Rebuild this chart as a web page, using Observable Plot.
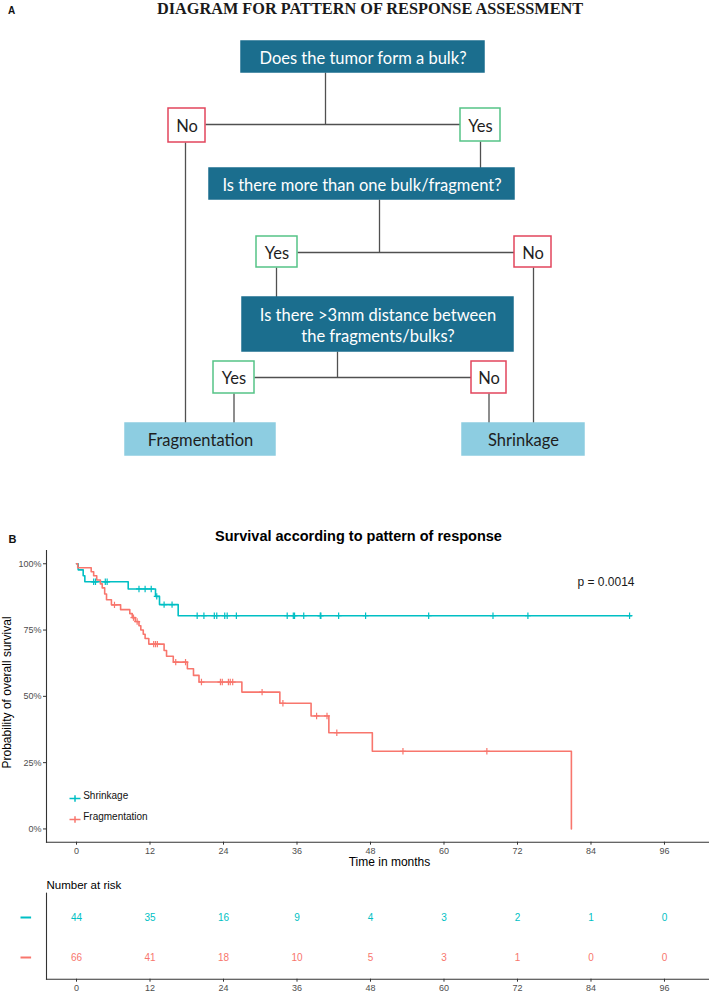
<!DOCTYPE html>
<html><head><meta charset="utf-8">
<script src="https://cdn.jsdelivr.net/npm/d3@7"></script>
<script src="https://cdn.jsdelivr.net/npm/@observablehq/plot@0.6"></script>
<style>
body{margin:0;background:#fff;}
#fig{position:relative;width:709px;height:992px;overflow:hidden;background:#fff;}
#fig > div{position:absolute;left:0;}
svg{display:block;overflow:visible;}
</style></head>
<body><div id="fig"><div id="flow" style="top:0px"></div><div id="km" style="top:505px"></div><div id="risk" style="top:870px"></div></div>
<script>
// ================= Panel A : content =================
const panelALabel = "A";
const diagramTitle = "DIAGRAM FOR PATTERN OF RESPONSE ASSESSMENT";
const questions = ["Does the tumor form a bulk?", "Is there more than one bulk/fragment?", "Is there >3mm distance between\nthe fragments/bulks?"];
const answerLabels = ["No", "Yes", "Yes", "No", "Yes", "No"];
const answerKinds = ["no", "yes", "yes", "no", "yes", "no"];
const outcomes = ["Fragmentation", "Shrinkage"];

// Panel A layout (diagram pixels: [x1, x2, y1, y2])
const questionBoxes = [[241, 484, 41, 72], [209, 514, 168, 199], [242, 513, 297, 351]];
const answerBoxes = [[168, 205, 108, 142], [460, 500, 108, 141], [256, 297, 236, 267], [514, 551, 236, 267], [213, 254, 361, 393], [471, 506, 361, 393]];
const outcomeBoxes = [[125, 275, 423, 455], [462, 584, 423, 455]];
const connectorSegments = [
  [325, 72, 325, 124], [205, 124, 460, 124], [480, 141, 480, 168], [185, 142, 185, 423],
  [379, 199, 379, 252], [297, 252, 514, 252], [276, 267, 276, 297], [533, 267, 533, 423],
  [337, 351, 337, 377], [254, 377, 471, 377], [233.5, 393, 233.5, 423], [488.5, 393, 488.5, 423]
];

// ================= Panel B : data =================
const panelBLabel = "B";
const kmTitle = "Survival according to pattern of response";
const pValueLabel = "p = 0.0014";
const groups = ["Shrinkage", "Fragmentation"];
const groupColors = ["#00BFC4", "#F8766D"];

const shrinkTime = [0, 0.27, 1.09, 1.36, 8.44, 12.9, 13.55, 16.6, 90.6];
const shrinkSurv = [1, 0.977, 0.955, 0.932, 0.905, 0.877, 0.846, 0.804, 0.804];
const shrinkCensor = [2.8, 3.1, 4.7, 5.0, 10.2, 11.2, 12.2, 13.1, 14.3, 15.6, 19.7, 20.8, 22.5, 22.9, 24.2, 24.6, 26.1, 34.4, 35.4, 35.6, 37.1, 39.8, 39.9, 42.8, 47.2, 57.5, 68.0, 73.7, 90.3];

const fragTime = [0, 0.2, 2.4, 2.8, 3.3, 3.9, 4.2, 4.6, 4.9, 5.7, 7.2, 8.7, 9.1, 9.6, 10.2, 10.5, 10.9, 11.2, 11.8, 14.3, 14.7, 15.8, 18.1, 19.1, 20.0, 27.0, 33.2, 38.3, 41.2, 48.3, 80.8];
const fragSurv = [1, 0.985, 0.970, 0.955, 0.939, 0.924, 0.909, 0.886, 0.864, 0.845, 0.827, 0.812, 0.797, 0.782, 0.766, 0.750, 0.734, 0.718, 0.697, 0.673, 0.651, 0.629, 0.604, 0.579, 0.554, 0.516, 0.474, 0.426, 0.363, 0.293, 0];
const fragCensor = [6.2, 9.3, 9.9, 12.6, 12.9, 13.2, 16.2, 17.8, 20.4, 23.5, 23.8, 24.8, 25.1, 25.5, 30.3, 33.7, 39.2, 40.9, 42.5, 53.3, 67.0];

const timeTicks = [0, 12, 24, 36, 48, 60, 72, 84, 96];
const survTicks = [0, 0.25, 0.5, 0.75, 1];
const xAxisTitle = "Time in months";
const yAxisTitle = "Probability of overall survival";
const riskTitle = "Number at risk";
const shrinkRisk = [44, 35, 16, 9, 4, 3, 2, 1, 0];
const fragRisk = [66, 41, 18, 10, 5, 3, 1, 0, 0];

// ================= helpers =================
const sans = "'Liberation Sans', Arial, Helvetica, sans-serif";
const toBox = (b) => ({x1: b[0], x2: b[1], y1: b[2], y2: b[3]});
const nodes = [
  ...questions.map((t, i) => ({text: t, kind: "question", ...toBox(questionBoxes[i])})),
  ...answerLabels.map((t, i) => ({text: t, kind: answerKinds[i], ...toBox(answerBoxes[i])})),
  ...outcomes.map((t, i) => ({text: t, kind: "outcome", ...toBox(outcomeBoxes[i])}))
];
const kindFill = {question: "#1B6E8E", outcome: "#8DCDE1", yes: "#FFFFFF", no: "#FFFFFF"};
const kindStroke = {question: "#1B6E8E", outcome: "#8DCDE1", yes: "#55C387", no: "#E2455C"};
const kindText = {question: "#FFFFFF", outcome: "#1E1E1E", yes: "#1E1E1E", no: "#1E1E1E"};
const links = connectorSegments.map(([x1, y1, x2, y2]) => ({x1, y1, x2, y2}));

// ================= Panel A plot =================
const flow = Plot.plot({
  width: 709, height: 470, margin: 0,
  x: {domain: [0, 709], range: [0, 709], axis: null},
  y: {domain: [0, 470], range: [0, 470], axis: null},
  color: {type: "identity"},
  style: {background: "white"},
  marks: [
    Plot.link(links, {x1: "x1", y1: "y1", x2: "x2", y2: "y2", stroke: "#505050", strokeWidth: 1.3}),
    Plot.rect(nodes, {x1: "x1", x2: "x2", y1: "y1", y2: "y2", fill: d => kindFill[d.kind], stroke: d => kindStroke[d.kind], strokeWidth: 1.5}),
    Plot.text(nodes, {x: d => (d.x1 + d.x2) / 2, y: d => (d.y1 + d.y2) / 2, text: "text", fill: d => kindText[d.kind],
      fontFamily: "Lato, 'Open Sans', sans-serif", fontSize: 16.5, lineHeight: 1.27, textAnchor: "middle"}),
    Plot.text([diagramTitle], {x: 369.5, y: 8.6, text: d => d, fontFamily: "'Liberation Serif', 'Times New Roman', serif",
      fontWeight: "bold", fontSize: 16.3, fill: "#1a1a1a", textAnchor: "middle"}),
    Plot.text([panelALabel], {x: 11, y: 10.5, text: d => d, fontFamily: sans, fontWeight: "bold", fontSize: 10, fill: "#111", textAnchor: "middle"})
  ]
});
document.getElementById("flow").append(flow);

// ================= Panel B : survival curves =================
const survAt = (times, survs, t) => survs[d3.bisectRight(times, t) - 1];
const shrinkPts = shrinkTime.map((t, i) => ({t, s: shrinkSurv[i], g: groups[0]}));
const fragPts = fragTime.map((t, i) => ({t, s: fragSurv[i], g: groups[1]}));
const censorPts = [
  ...shrinkCensor.map(t => ({t, s: survAt(shrinkTime, shrinkSurv, t), g: groups[0]})),
  ...fragCensor.map(t => ({t, s: survAt(fragTime, fragSurv, t), g: groups[1]}))
];
const plusSymbol = {draw(ctx) { ctx.moveTo(-3, 0); ctx.lineTo(3, 0); ctx.moveTo(0, -3.2); ctx.lineTo(0, 3.2); }};
const keySymbol = {draw(ctx) { ctx.moveTo(-5.5, 0); ctx.lineTo(5.5, 0); ctx.moveTo(0, -3.2); ctx.lineTo(0, 3.2); }};
const dashSymbol = {draw(ctx) { ctx.moveTo(-5.3, 0); ctx.lineTo(5.3, 0); }};

const xDomain = [-4.9, 103.35];
const yDomain = [-0.05, 1.05];
const colorScale = {domain: groups, range: groupColors};

const legendMarks = groups.flatMap((g, i) => [
  Plot.dot([g], {frameAnchor: "bottom-left", dx: 28.5, dy: -43.7 + 21 * i, symbol: () => keySymbol, r: 3, stroke: groupColors[i], fill: "none", strokeWidth: 1.5}),
  Plot.text([g], {frameAnchor: "bottom-left", dx: 36.7, dy: -43.7 + 21 * i, text: d => d, textAnchor: "start", fontSize: 10, fill: "#111"})
]);

const km = Plot.plot({
  width: 709, height: 365, marginTop: 45, marginBottom: 28.3, marginLeft: 46, marginRight: 0,
  x: {domain: xDomain, axis: null},
  y: {domain: yDomain, axis: null},
  color: colorScale,
  style: {fontFamily: sans, background: "white", color: "#4D4D4D"},
  marks: [
    Plot.frame({anchor: "left", stroke: "#333", strokeWidth: 1.1}),
    Plot.frame({anchor: "bottom", stroke: "#333", strokeWidth: 1.1}),
    Plot.axisX({ticks: timeTicks, tickSize: 3, tickPadding: 2, fontSize: 9, label: null, stroke: "#333"}),
    Plot.axisY({ticks: survTicks, tickFormat: d3.format(".0%"), tickSize: 3, tickPadding: 2, fontSize: 9, label: null, stroke: "#333"}),
    Plot.line(shrinkPts, {x: "t", y: "s", stroke: "g", curve: "step-after", strokeWidth: 1.6}),
    Plot.line(fragPts, {x: "t", y: "s", stroke: "g", curve: "step-after", strokeWidth: 1.6}),
    Plot.dot(censorPts, {x: "t", y: "s", stroke: "g", symbol: () => plusSymbol, r: 3, fill: "none", strokeWidth: 1.2}),
    Plot.text([pValueLabel], {frameAnchor: "top-right", dx: -75, dy: 26.7, text: d => d, textAnchor: "end", fontSize: 12, fill: "#1a1a1a"}),
    Plot.text([kmTitle], {frameAnchor: "top", dx: -19.5, dy: -20, text: d => d, textAnchor: "middle", fontSize: 14.5, fontWeight: "bold", fill: "#000"}),
    Plot.text([panelBLabel], {frameAnchor: "top-left", dx: -38, dy: -15, text: d => d, textAnchor: "start", fontSize: 11, fontWeight: "bold", fill: "#111"}),
    Plot.text([xAxisTitle], {frameAnchor: "bottom", dx: 11.5, dy: 23.5, text: d => d, textAnchor: "middle", fontSize: 12, fill: "#000"}),
    Plot.text([yAxisTitle], {frameAnchor: "left", dx: -39.5, dy: -3.9, rotate: -90, text: d => d, textAnchor: "middle", fontSize: 12, fill: "#000"}),
    ...legendMarks
  ]
});
document.getElementById("km").append(km);

// ================= Risk table =================
const riskRows = [
  ...timeTicks.map((t, i) => ({t, n: shrinkRisk[i], g: groups[0]})),
  ...timeTicks.map((t, i) => ({t, n: fragRisk[i], g: groups[1]}))
];
const risk = Plot.plot({
  width: 709, height: 122, marginTop: 22.7, marginBottom: 13.3, marginLeft: 46, marginRight: 0,
  x: {domain: xDomain, axis: null},
  y: {type: "point", domain: groups, range: [46.7, 87.3], padding: 0, axis: null},
  color: colorScale,
  style: {fontFamily: sans, background: "white", color: "#4D4D4D"},
  marks: [
    Plot.frame({anchor: "left", stroke: "#333", strokeWidth: 1.1}),
    Plot.frame({anchor: "bottom", stroke: "#333", strokeWidth: 1.1}),
    Plot.axisX({ticks: timeTicks, tickSize: 3, tickPadding: 2, fontSize: 9, label: null, stroke: "#333"}),
    Plot.text(riskRows, {x: "t", y: "g", text: d => String(d.n), fill: "g", fontSize: 10, textAnchor: "middle"}),
    Plot.dot(groups, {y: d => d, frameAnchor: "left", dx: -20.7, stroke: d => d, symbol: () => dashSymbol, r: 3, fill: "none", strokeWidth: 2}),
    Plot.text([riskTitle], {frameAnchor: "top-left", dx: 0, dy: -12, text: d => d, textAnchor: "start", fontSize: 11.5, fill: "#000"})
  ]
});
document.getElementById("risk").append(risk);
</script>
</body></html>
